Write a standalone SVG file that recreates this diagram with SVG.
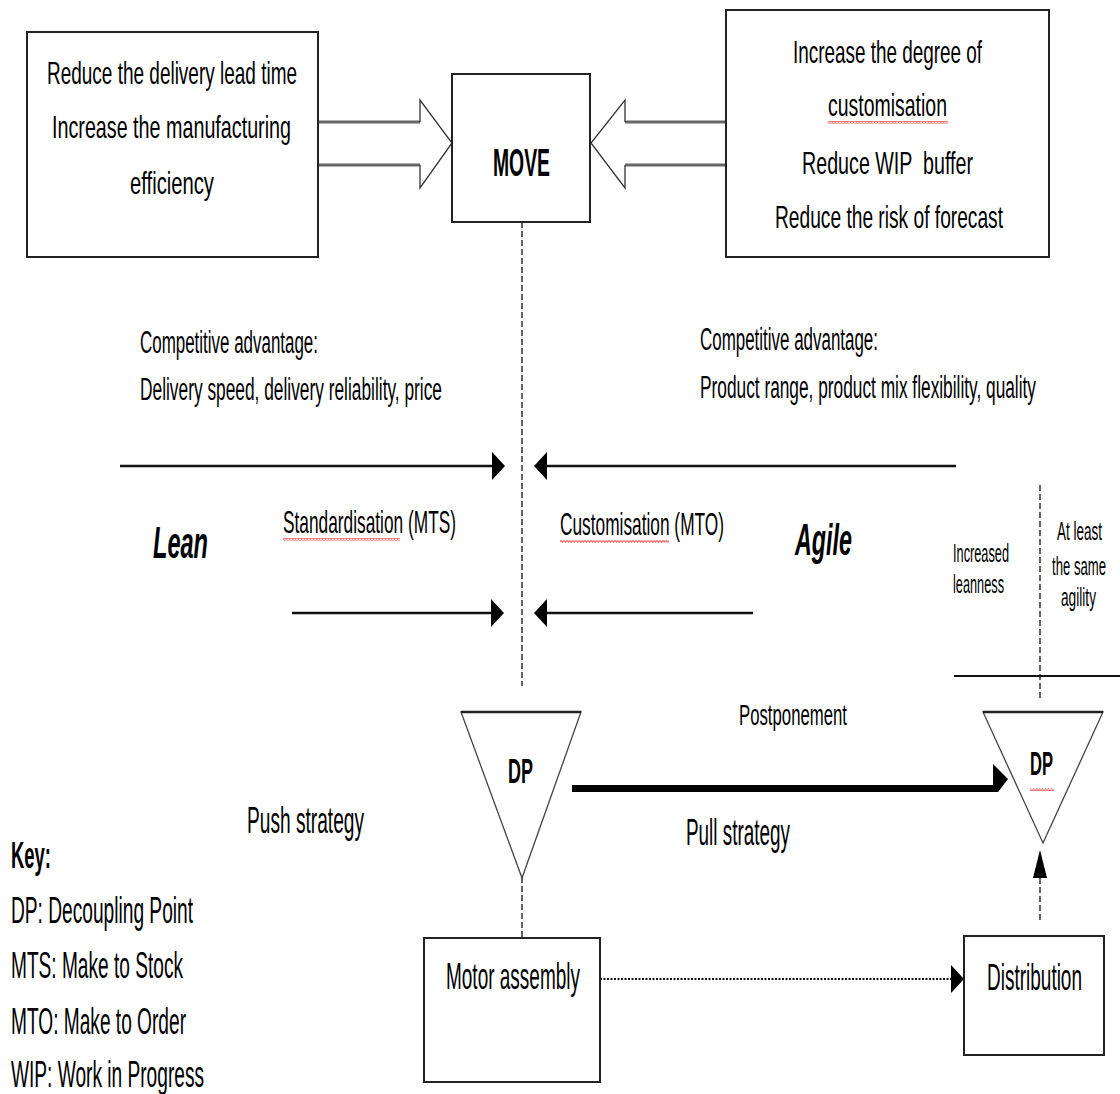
<svg xmlns="http://www.w3.org/2000/svg" width="1120" height="1094" viewBox="0 0 1120 1094">
<style>
text{font-family:"Liberation Sans",Arial,sans-serif;fill:#000}
.bx{font-size:19.3px}
.ca{font-size:17px}
.sc{font-size:16.8px}
.sm{font-size:13px}
.pp{font-size:16.8px}
.lg{font-size:19px}
.b{font-weight:bold}
.bi{font-weight:bold;font-style:italic;font-size:23.5px}
.box{fill:#fff;stroke:#222;stroke-width:2}
.tri{fill:#fff;stroke:#444;stroke-width:1.3}
.ln{stroke:#111;stroke-width:2.5;fill:none}
.dash{stroke:#111;stroke-width:1.3;stroke-dasharray:6,3;fill:none}
.shaft{stroke:#666;stroke-width:3;fill:none}
.head{stroke:#333;stroke-width:1.3;fill:#fff}
</style>
<defs>
  <pattern id="wv" width="3" height="3" patternUnits="userSpaceOnUse">
    <path d="M0,2.5 L0.75,0.5 L1.5,2.5 L2.25,0.5 L3,2.5" stroke="#e84040" stroke-width="0.7" fill="none"/>
  </pattern>
</defs>
<rect width="1120" height="1094" fill="#fff"/>

<g id="connectors">
  <line class="dash" x1="522" y1="222" x2="522" y2="686"/>
  <line class="dash" x1="522" y1="877" x2="522" y2="938"/>
  <line class="dash" x1="1040" y1="485" x2="1040" y2="698"/>
  <line x1="954" y1="676" x2="1120" y2="676" stroke="#111" stroke-width="2"/>
  <line class="shaft" x1="318" y1="122" x2="420" y2="122"/>
  <line class="shaft" x1="318" y1="165" x2="420" y2="165"/>
  <polyline class="head" points="420,122 420,100 452,143 420,188 420,165"/>
  <line class="shaft" x1="725" y1="122" x2="625" y2="122"/>
  <line class="shaft" x1="725" y1="165" x2="625" y2="165"/>
  <polyline class="head" points="625,122 625,100 591,143 625,188 625,165"/>
  <line class="ln" x1="120" y1="466" x2="493" y2="466"/>
  <polygon points="492,452 505,466 492,480" fill="#000"/>
  <line class="ln" x1="956" y1="466" x2="546" y2="466"/>
  <polygon points="547,452 534,466 547,480" fill="#000"/>
  <line class="ln" x1="292" y1="613" x2="492" y2="613"/>
  <polygon points="491,599 504,613 491,627" fill="#000"/>
  <line class="ln" x1="753" y1="613" x2="546" y2="613"/>
  <polygon points="547,599 534,613 547,627" fill="#000"/>
  <line x1="572" y1="788.5" x2="996" y2="788.5" stroke="#000" stroke-width="7"/>
  <polygon points="993,764 1008,779 998,792 993,792" fill="#000"/>
  <line class="dash" x1="1040" y1="878" x2="1040" y2="920"/>
  <polygon points="1033,878 1040,850 1047,878" fill="#000"/>
  <line x1="600" y1="979" x2="952" y2="979" stroke="#111" stroke-width="2" stroke-dasharray="2,1.5"/>
  <polygon points="951,965 964,979 951,993" fill="#000"/>
</g>

<g id="node-left-goals">
  <rect class="box" x="27" y="32" width="291" height="225"/>
  <text class="bx" transform="translate(47,84) scale(1,1.65)" textLength="250" lengthAdjust="spacingAndGlyphs">Reduce the delivery lead time</text>
  <text class="bx" transform="translate(52,138) scale(1,1.65)" textLength="239" lengthAdjust="spacingAndGlyphs">Increase the manufacturing</text>
  <text class="bx" transform="translate(130,194) scale(1,1.65)" textLength="84" lengthAdjust="spacingAndGlyphs">efficiency</text>
</g>

<g id="node-move">
  <rect class="box" x="452" y="74" width="138" height="148"/>
  <text class="b" style="font-size:19.4px" transform="translate(493,176) scale(1,2)" textLength="57" lengthAdjust="spacingAndGlyphs">MOVE</text>
</g>

<g id="node-right-goals">
  <rect class="box" x="726" y="10" width="323" height="247"/>
  <text class="bx" transform="translate(793,63) scale(1,1.65)" textLength="189" lengthAdjust="spacingAndGlyphs">Increase the degree of</text>
  <text class="bx" transform="translate(828,116) scale(1,1.65)" textLength="119" lengthAdjust="spacingAndGlyphs">customisation</text>
  <rect x="828" y="121" width="120" height="3" fill="url(#wv)"/>
  <text class="bx" transform="translate(802,174) scale(1,1.65)" textLength="171" lengthAdjust="spacingAndGlyphs" xml:space="preserve">Reduce WIP  buffer</text>
  <text class="bx" transform="translate(775,228) scale(1,1.65)" textLength="228" lengthAdjust="spacingAndGlyphs">Reduce the risk of forecast</text>
</g>

<g id="label-lean-advantage">
  <text class="ca" transform="translate(140,353) scale(1,1.85)" textLength="178" lengthAdjust="spacingAndGlyphs">Competitive advantage:</text>
  <text class="ca" transform="translate(140,400) scale(1,1.85)" textLength="302" lengthAdjust="spacingAndGlyphs">Delivery speed, delivery reliability, price</text>
</g>

<g id="label-agile-advantage">
  <text class="ca" transform="translate(700,350) scale(1,1.85)" textLength="178" lengthAdjust="spacingAndGlyphs">Competitive advantage:</text>
  <text class="ca" transform="translate(700,398) scale(1,1.85)" textLength="336" lengthAdjust="spacingAndGlyphs">Product range, product mix flexibility, quality</text>
</g>

<g id="label-lean">
  <text class="bi" transform="translate(153,558) scale(1,1.9)" textLength="55" lengthAdjust="spacingAndGlyphs">Lean</text>
</g>

<g id="label-mts">
  <text class="sc" transform="translate(283,533) scale(1,1.9)" textLength="173" lengthAdjust="spacingAndGlyphs">Standardisation (MTS)</text>
  <rect x="283" y="538" width="117" height="3" fill="url(#wv)"/>
</g>

<g id="label-mto">
  <text class="sc" transform="translate(560,535) scale(1,1.9)" textLength="164" lengthAdjust="spacingAndGlyphs">Customisation (MTO)</text>
  <rect x="560" y="540" width="109" height="3" fill="url(#wv)"/>
</g>

<g id="label-agile">
  <text class="bi" transform="translate(795,555) scale(1,1.9)" textLength="57" lengthAdjust="spacingAndGlyphs">Agile</text>
</g>

<g id="label-leanness">
  <text class="sm" transform="translate(953,562) scale(1,1.93)" textLength="56" lengthAdjust="spacingAndGlyphs">Increased</text>
  <text class="sm" transform="translate(953,593) scale(1,1.93)" textLength="51" lengthAdjust="spacingAndGlyphs">leanness</text>
</g>

<g id="label-agility">
  <text class="sm" transform="translate(1057,540) scale(1,1.93)" textLength="45" lengthAdjust="spacingAndGlyphs">At least</text>
  <text class="sm" transform="translate(1052,575) scale(1,1.93)" textLength="54" lengthAdjust="spacingAndGlyphs">the same</text>
  <text class="sm" transform="translate(1061,606) scale(1,1.93)" textLength="35" lengthAdjust="spacingAndGlyphs">agility</text>
</g>

<g id="node-dp-left">
  <polygon class="tri" points="461,712 581,712 522,878"/>
  <line x1="461" y1="712" x2="581" y2="712" stroke="#222" stroke-width="2.5"/>
  <text class="b" style="font-size:18px" transform="translate(508,783) scale(1,2)" textLength="25" lengthAdjust="spacingAndGlyphs">DP</text>
</g>

<g id="node-dp-right">
  <polygon class="tri" points="983,712 1103,712 1043,843"/>
  <line x1="983" y1="712" x2="1103" y2="712" stroke="#222" stroke-width="2.5"/>
  <text class="b" style="font-size:17px" transform="translate(1030,775) scale(1,2)" textLength="23" lengthAdjust="spacingAndGlyphs">DP</text>
  <rect x="1030" y="788" width="24" height="3" fill="url(#wv)"/>
</g>

<g id="label-postponement">
  <text class="pp" transform="translate(739,725) scale(1,1.75)" textLength="108" lengthAdjust="spacingAndGlyphs">Postponement</text>
</g>

<g id="label-pull">
  <text class="lg" transform="translate(686,845) scale(1,1.97)" textLength="104" lengthAdjust="spacingAndGlyphs">Pull strategy</text>
</g>

<g id="label-push">
  <text class="lg" transform="translate(247,833) scale(1,1.97)" textLength="117" lengthAdjust="spacingAndGlyphs">Push strategy</text>
</g>

<g id="key">
  <text class="lg b" style="font-size:18.5px" transform="translate(11,868) scale(1,1.97)" textLength="40" lengthAdjust="spacingAndGlyphs">Key:</text>
  <text class="lg" transform="translate(11,923) scale(1,1.97)" textLength="182" lengthAdjust="spacingAndGlyphs">DP: Decoupling Point</text>
  <text class="lg" transform="translate(11,978) scale(1,1.97)" textLength="172" lengthAdjust="spacingAndGlyphs">MTS: Make to Stock</text>
  <text class="lg" transform="translate(11,1034) scale(1,1.97)" textLength="175" lengthAdjust="spacingAndGlyphs">MTO: Make to Order</text>
  <text class="lg" transform="translate(11,1087) scale(1,1.97)" textLength="193" lengthAdjust="spacingAndGlyphs">WIP: Work in Progress</text>
</g>

<g id="node-motor-assembly">
  <rect class="box" x="424" y="938" width="176" height="144"/>
  <text class="lg" transform="translate(446,989) scale(1,1.97)" textLength="134" lengthAdjust="spacingAndGlyphs">Motor assembly</text>
</g>

<g id="node-distribution">
  <rect class="box" x="964" y="936" width="140" height="119"/>
  <text class="lg" transform="translate(987,990) scale(1,1.97)" textLength="95" lengthAdjust="spacingAndGlyphs">Distribution</text>
</g>
</svg>
